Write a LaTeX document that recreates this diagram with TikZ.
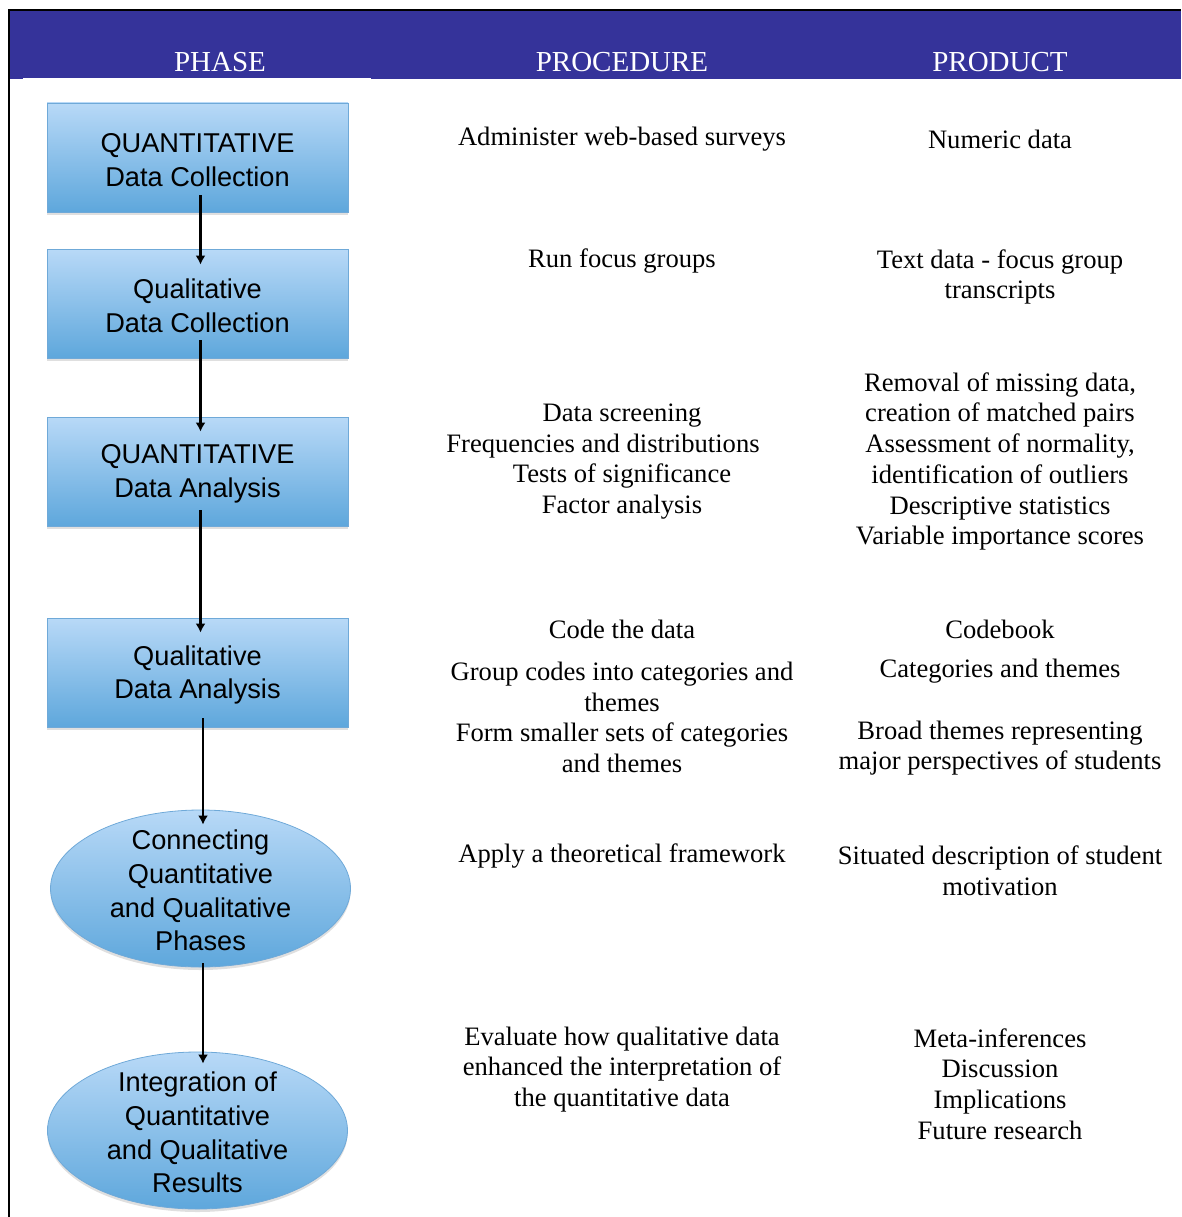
\documentclass[tikz,border=0pt]{standalone}
\usepackage{fontspec}
\setmainfont{Liberation Serif}
\newfontfamily\boxfont{Liberation Sans}
\usetikzlibrary{shapes.geometric,shadows,arrows.meta}

\definecolor{headblue}{HTML}{35339A}
\definecolor{boxtop}{HTML}{B8D9F7}
\definecolor{boxbot}{HTML}{5EA7DC}
\definecolor{boxedge}{HTML}{6FA9D8}

\tikzset{
  phasebox/.style={rectangle, draw=boxedge, line width=0.8pt,
    top color=boxtop, bottom color=boxbot,
    minimum width=301pt, minimum height=109pt, inner sep=0pt,
    drop shadow={opacity=0.25, shadow xshift=0pt, shadow yshift=-3pt}},
  phaseoval/.style={ellipse, draw=boxedge, line width=0.8pt,
    top color=boxtop, bottom color=boxbot,
    minimum width=300pt, minimum height=157pt, inner sep=0pt,
    drop shadow={opacity=0.25, shadow xshift=0pt, shadow yshift=-3pt}},
  boxtext/.style={align=center, inner sep=0pt,
    font=\boxfont\fontsize{27.2}{33.8}\selectfont},
  headtext/.style={text=white, font=\fontsize{29}{34}\selectfont, anchor=base},
  coltext/.style={align=center, font=\fontsize{26.6}{30.7}\selectfont, inner sep=0pt},
  flow/.style={line width=2.2pt, -{Latex[length=9pt,width=10pt]}},
}

\begin{document}
\begin{tikzpicture}[x=1pt,y=-1pt]
\useasboundingbox (0,0) rectangle (1181,1217);

% header band and frame
\fill[headblue] (10,11) rectangle (1181,79);
\fill[white] (23,77.6) rectangle (371,79);
\draw[line width=2pt] (9,1217) -- (9,10) -- (1181,10);

\node[headtext] (hphase) at (220,72) {PHASE};
\node[headtext] (hproc) at (622,72) {PROCEDURE};
\node[headtext] (hprod) at (1000,72) {PRODUCT};

% phases
\node[phasebox] (q1) at (197.5,157.5) {};
\node[phasebox] (q2) at (197.5,303.5) {};
\node[phasebox] (q3) at (197.5,471.5) {};
\node[phasebox] (q4) at (197.5,672.5) {};
\node[phaseoval] (e1) at (200.5,888.5) {};
\node[phaseoval] (e2) at (197.5,1130.5) {};

\node[boxtext] (q1t) at ([yshift=-2.5pt]q1.center) {QUANTITATIVE\\Data Collection};
\node[boxtext] (q2t) at ([yshift=-2.5pt]q2.center) {Qualitative\\Data Collection};
\node[boxtext] (q3t) at ([yshift=-2.5pt]q3.center) {QUANTITATIVE\\Data Analysis};
\node[boxtext] (q4t) at ([yshift=-2.5pt]q4.center) {Qualitative\\Data Analysis};
\node[boxtext] (e1t) at ([yshift=-2pt]e1.center) {Connecting\\Quantitative\\and Qualitative\\Phases};
\node[boxtext] (e2t) at ([yshift=-2pt]e2.center) {Integration of\\Quantitative\\and Qualitative\\Results};

% connectors
\draw[flow] ([xshift=3pt,yshift=17pt]q1.south) -- ([xshift=3pt,yshift=-16pt]q2.north);
\draw[flow] ([xshift=3pt,yshift=18pt]q2.south) -- ([xshift=3pt,yshift=-15pt]q3.north);
\draw[flow] ([xshift=3pt,yshift=16pt]q3.south) -- ([xshift=3pt,yshift=-15pt]q4.north);
\draw[flow] ([xshift=5.5pt,yshift=9pt]q4.south) -- ([xshift=2.5pt,yshift=-15pt]e1.north);
\draw[flow] ([xshift=2.5pt,yshift=4pt]e1.south) -- ([xshift=5.5pt,yshift=-12pt]e2.north);

% procedures
\node[coltext] (p1) at (622,139.5) {Administer web-based surveys};
\node[coltext] (p2) at (622,261.5) {Run focus groups};
\node[coltext] (p3) at (622,461.5) {Data screening\\Frequencies and distributions\kern38pt\\Tests of significance\\Factor analysis};
\node[coltext] (p4) at (622,629) {Code the data};
\node[coltext] (p5) at (622,687) {Group codes into categories and\\themes};
\node[coltext] (p6) at (622,748) {Form smaller sets of categories\\and themes};
\node[coltext] (p7) at (622,855.5) {Apply a theoretical framework};
\node[coltext] (p8) at (622,1069.5) {Evaluate how qualitative data\\enhanced the interpretation of\\the quantitative data};

% products
\node[coltext] (r1) at (1000,139) {Numeric data};
\node[coltext] (r2) at (1000,277) {Text data - focus group\\transcripts};
\node[coltext] (r3) at (1000,461.5) {Removal of missing data,\\creation of matched pairs\\Assessment of normality,\\identification of outliers\\Descriptive statistics\\Variable importance scores};
\node[coltext] (r4) at (1000,629) {Codebook};
\node[coltext] (r5) at (1000,671.5) {Categories and themes};
\node[coltext] (r6) at (1000,748) {Broad themes representing\\major perspectives of students};
\node[coltext] (r7) at (1000,870.5) {Situated description of student\\motivation};
\node[coltext] (r8) at (1000,1084) {Meta-inferences\\Discussion\\Implications\\Future research};
\end{tikzpicture}
\end{document}
